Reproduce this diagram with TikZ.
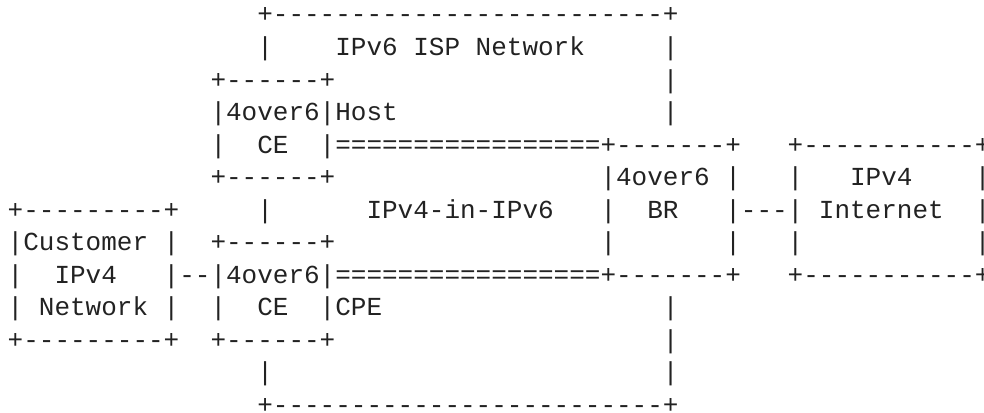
\documentclass[tikz,border=0pt]{standalone}
\usepackage{fontspec}
\setmonofont{Liberation Mono}
\definecolor{ink}{HTML}{222222}
\tikzset{
  asc/.style={anchor=base west, inner sep=0pt, outer sep=0pt, text=ink,
    font=\ttfamily\fontsize{26pt}{32.5pt}\selectfont}
}
% place text at column #2, row #3
\newcommand\tx[4]{\node[asc] (#1) at ({7.7+15.6*#2},{-23-32.5*#3}) {#4};}
\def\dfive{-----}
\def\dtf{\dfive\dfive\dfive\dfive\dfive}
\def\eqs{=================}
\begin{document}
\begin{tikzpicture}[x=1pt,y=1pt]
\useasboundingbox (0,0) rectangle (984,-412);
% row 0
\tx{r0a}{16}{0}{+\dtf+}
% row 1
\tx{r1a}{16}{1}{|}
\tx{r1b}{21}{1}{IPv6~ISP~Network}
\tx{r1c}{42}{1}{|}
% row 2
\tx{r2a}{13}{2}{+------+}
\tx{r2b}{42}{2}{|}
% row 3
\tx{r3a}{13}{3}{|4over6|Host}
\tx{r3b}{42}{3}{|}
% row 4
\tx{r4a}{13}{4}{|}
\tx{r4b}{16}{4}{CE}
\tx{r4c}{20}{4}{|\eqs+-------+}
\tx{r4d}{50}{4}{+-----------+}
% row 5
\tx{r5a}{13}{5}{+------+}
\tx{r5b}{38}{5}{|4over6}
\tx{r5c}{46}{5}{|}
\tx{r5d}{50}{5}{|}
\tx{r5e}{54}{5}{IPv4}
\tx{r5f}{62}{5}{|}
% row 6
\tx{r6a}{0}{6}{+---------+}
\tx{r6b}{16}{6}{|}
\tx{r6c}{23}{6}{IPv4-in-IPv6}
\tx{r6d}{38}{6}{|}
\tx{r6e}{41}{6}{BR}
\tx{r6f}{46}{6}{|---|}
\tx{r6g}{52}{6}{Internet}
\tx{r6h}{62}{6}{|}
% row 7
\tx{r7a}{0}{7}{|Customer}
\tx{r7b}{10}{7}{|}
\tx{r7c}{13}{7}{+------+}
\tx{r7d}{38}{7}{|}
\tx{r7e}{46}{7}{|}
\tx{r7f}{50}{7}{|}
\tx{r7g}{62}{7}{|}
% row 8
\tx{r8a}{0}{8}{|}
\tx{r8b}{3}{8}{IPv4}
\tx{r8c}{10}{8}{|--|4over6|\eqs+-------+}
\tx{r8d}{50}{8}{+-----------+}
% row 9
\tx{r9a}{0}{9}{|}
\tx{r9b}{2}{9}{Network}
\tx{r9c}{10}{9}{|}
\tx{r9d}{13}{9}{|}
\tx{r9e}{16}{9}{CE}
\tx{r9f}{20}{9}{|CPE}
\tx{r9g}{42}{9}{|}
% row 10
\tx{r10a}{0}{10}{+---------+}
\tx{r10b}{13}{10}{+------+}
\tx{r10c}{42}{10}{|}
% row 11
\tx{r11a}{16}{11}{|}
\tx{r11b}{42}{11}{|}
% row 12
\tx{r12a}{16}{12}{+\dtf+}
\end{tikzpicture}
\end{document}
